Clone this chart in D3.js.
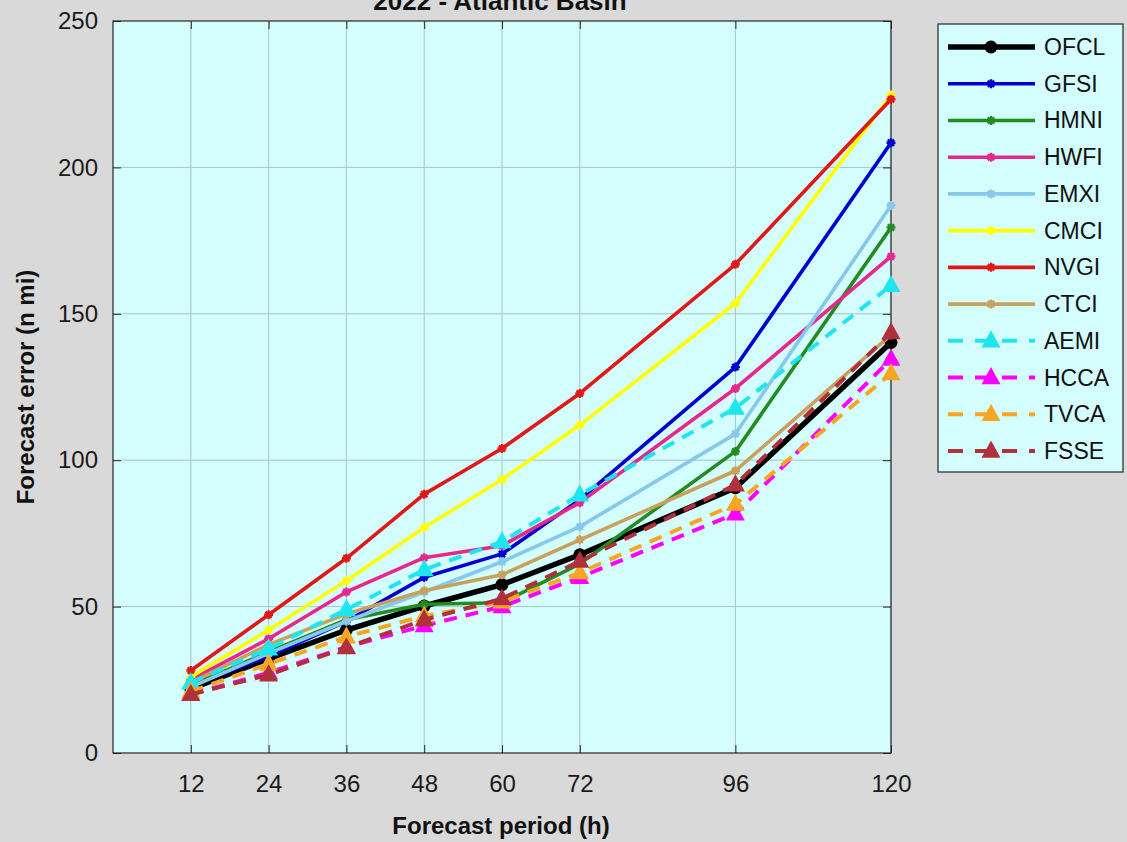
<!DOCTYPE html>
<html>
<head>
<meta charset="utf-8">
<script src="https://cdn.jsdelivr.net/npm/d3@7"></script>
<style>
  html, body { margin: 0; padding: 0; background: #d9d9d9; }
  svg { display: block; font-family: "Liberation Sans", Arial, sans-serif; }
</style>
</head>
<body>
<svg id="chart"></svg>
<script>
const periods = [12, 24, 36, 48, 60, 72, 96, 120];
const yTicks = [0, 50, 100, 150, 200, 250];

const models = ["OFCL", "GFSI", "HMNI", "HWFI", "EMXI", "CMCI", "NVGI", "CTCI", "AEMI", "HCCA", "TVCA", "FSSE"];

const ofcl = [21.9, 32.2, 42.0, 50.2, 57.5, 67.7, 90.6, 140.2];
const gfsi = [23.0, 33.0, 45.0, 60.0, 68.0, 86.5, 131.8, 208.4];
const hmni = [23.0, 34.5, 45.5, 50.8, 51.3, 64.6, 103.0, 179.5];
const hwfi = [25.0, 39.0, 55.0, 66.7, 70.8, 85.5, 124.5, 169.6];
const emxi = [22.5, 34.0, 45.0, 55.0, 65.3, 77.3, 109.0, 187.0];
const cmci = [26.0, 42.0, 58.8, 77.0, 93.4, 112.0, 153.6, 224.7];
const nvgi = [28.2, 47.2, 66.5, 88.4, 104.0, 122.8, 166.9, 223.3];
const ctci = [24.0, 37.0, 47.5, 55.4, 60.9, 72.8, 96.4, 142.8];
const aemi = [24.0, 35.6, 49.0, 62.6, 72.2, 88.2, 117.8, 159.7];
const hcca = [20.0, 27.4, 36.2, 43.5, 50.0, 60.0, 81.7, 134.5];
const tvca = [21.0, 30.4, 39.7, 46.8, 51.6, 61.6, 85.0, 129.6];
const fsse = [20.0, 26.7, 36.0, 45.5, 52.7, 65.5, 91.6, 143.6];

const seriesValues = [ofcl, gfsi, hmni, hwfi, emxi, cmci, nvgi, ctci, aemi, hcca, tvca, fsse];
const seriesColors = ["#000000", "#0000d0", "#228b22", "#e6278c", "#87c9ec", "#ffff00", "#e01818", "#c8a25c", "#1fe6ee", "#ff00ff", "#f5a623", "#b0303c"];
const seriesKinds = ["circle", "star", "star", "star", "star", "star", "star", "star", "tri", "tri", "tri", "tri"];

const W = 1127, H = 842;
const plot = { left: 113, right: 891, top: 21, bottom: 753 };

const svg = d3.select("#chart").attr("width", W).attr("height", H);

const x = d3.scaleLinear().domain([0, 120]).range([plot.left, plot.right]);
const y = d3.scaleLinear().domain([0, 250]).range([plot.bottom, plot.top]);

// plot background
svg.append("rect")
  .attr("x", plot.left).attr("y", plot.top)
  .attr("width", plot.right - plot.left).attr("height", plot.bottom - plot.top)
  .attr("fill", "#d4fdfd");

// grid
const grid = svg.append("g").attr("stroke", "#a9c4c4").attr("stroke-width", 1);
grid.selectAll(".vg").data(periods).enter().append("line")
  .attr("x1", d => x(d)).attr("x2", d => x(d))
  .attr("y1", plot.top).attr("y2", plot.bottom);
grid.selectAll(".hg").data(yTicks.slice(1, -1)).enter().append("line")
  .attr("x1", plot.left).attr("x2", plot.right)
  .attr("y1", d => y(d)).attr("y2", d => y(d));

// axes (ticks pointing inward, MATLAB style)
const xAxis = d3.axisBottom(x).tickValues(periods).tickSizeInner(-8).tickSizeOuter(0).tickPadding(22);
const gx = svg.append("g").attr("transform", `translate(0,${plot.bottom})`).call(xAxis);
gx.selectAll("text").attr("font-size", 24).attr("fill", "#1a1a1a")
  .attr("font-family", "Liberation Sans, Arial, sans-serif");

const yAxis = d3.axisLeft(y).tickValues(yTicks).tickSizeInner(-8).tickSizeOuter(0).tickPadding(15);
const gy = svg.append("g").attr("transform", `translate(${plot.left},0)`).call(yAxis);
gy.selectAll("text").attr("font-size", 24).attr("fill", "#1a1a1a")
  .attr("font-family", "Liberation Sans, Arial, sans-serif");

const gyr = svg.append("g").attr("transform", `translate(${plot.right},0)`)
  .call(d3.axisRight(y).tickValues(yTicks).tickSizeInner(-8).tickSizeOuter(0).tickFormat(""));
const gxt = svg.append("g").attr("transform", `translate(0,${plot.top})`)
  .call(d3.axisTop(x).tickValues(periods).tickSizeInner(-8).tickSizeOuter(0).tickFormat(""));

[gx, gy, gyr, gxt].forEach(g => {
  g.select(".domain").remove();
  g.selectAll("line").attr("stroke", "#262626");
});

svg.append("rect")
  .attr("x", plot.left).attr("y", plot.top)
  .attr("width", plot.right - plot.left).attr("height", plot.bottom - plot.top)
  .attr("fill", "none").attr("stroke", "#262626").attr("stroke-width", 1.2);

// markers
function drawMarker(g, kind, cx, cy, color) {
  if (kind === "circle") {
    g.append("circle").attr("cx", cx).attr("cy", cy).attr("r", 6.5).attr("fill", color);
  } else if (kind === "tri") {
    const s = 9.5;
    g.append("path")
      .attr("d", `M${cx},${cy - s * 1.1}L${cx + s},${cy + s * 0.7}L${cx - s},${cy + s * 0.7}Z`)
      .attr("fill", color);
  } else {
    const r = 4.5;
    g.append("path")
      .attr("d", `M${cx - r},${cy}H${cx + r}M${cx},${cy - r}V${cy + r}M${cx - r * 0.7},${cy - r * 0.7}L${cx + r * 0.7},${cy + r * 0.7}M${cx - r * 0.7},${cy + r * 0.7}L${cx + r * 0.7},${cy - r * 0.7}`)
      .attr("stroke", color).attr("stroke-width", 2.4).attr("fill", "none");
  }
}

const widthOf = kind => kind === "circle" ? 5.5 : (kind === "tri" ? 4 : 3.6);

const line = d3.line().x((d, i) => x(periods[i])).y(d => y(d));

const lines = svg.append("g");
seriesValues.forEach((vals, k) => {
  const g = lines.append("g");
  const kind = seriesKinds[k];
  g.append("path")
    .datum(vals)
    .attr("d", line)
    .attr("fill", "none")
    .attr("stroke", seriesColors[k])
    .attr("stroke-width", widthOf(kind))
    .attr("stroke-linejoin", "round")
    .attr("stroke-dasharray", kind === "tri" ? "13,9" : null);
  vals.forEach((v, i) => drawMarker(g, kind, x(periods[i]), y(v), seriesColors[k]));
});

// title and axis labels
svg.append("text")
  .attr("x", 500).attr("y", 10)
  .attr("text-anchor", "middle")
  .attr("font-size", 26).attr("font-weight", "bold").attr("fill", "#111")
  .text("2022 - Atlantic Basin");

svg.append("text")
  .attr("x", 501).attr("y", 834)
  .attr("text-anchor", "middle")
  .attr("font-size", 24).attr("font-weight", "bold").attr("fill", "#111")
  .text("Forecast period (h)");

svg.append("text")
  .attr("transform", "translate(34,387) rotate(-90)")
  .attr("text-anchor", "middle")
  .attr("font-size", 24).attr("font-weight", "bold").attr("fill", "#111")
  .text("Forecast error (n mi)");

// legend
const legend = svg.append("g");
legend.append("rect")
  .attr("x", 938).attr("y", 24).attr("width", 185).attr("height", 448)
  .attr("fill", "#d4fdfd").attr("stroke", "#262626").attr("stroke-width", 1.2);

const ly = d3.scalePoint().domain(models).range([47, 451]);
models.forEach((name, k) => {
  const yy = ly(name);
  const kind = seriesKinds[k];
  const g = legend.append("g");
  g.append("line")
    .attr("x1", 948).attr("x2", 1035).attr("y1", yy).attr("y2", yy)
    .attr("stroke", seriesColors[k])
    .attr("stroke-width", widthOf(kind))
    .attr("stroke-dasharray", kind === "tri" ? "15,12" : null);
  drawMarker(g, kind, 991, yy, seriesColors[k]);
  g.append("text")
    .attr("x", 1044).attr("y", yy + 8)
    .attr("font-size", 23).attr("fill", "#111")
    .text(name);
});
</script>
</body>
</html>
